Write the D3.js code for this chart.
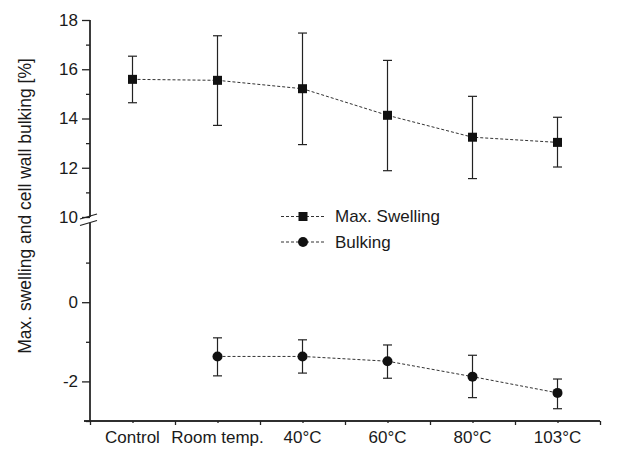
<!DOCTYPE html>
<html>
<head>
<meta charset="utf-8">
<script src="https://cdn.jsdelivr.net/npm/d3@7/dist/d3.min.js"></script>
<style>
body { margin: 0; background: #fff; }
svg text { font-family: "Liberation Sans", Arial, sans-serif; fill: #1a1a1a; }
</style>
</head>
<body>
<svg id="chart" width="638" height="452"></svg>
<script>
// categories along x
var categories = ["Control", "Room temp.", "40\u00B0C", "60\u00B0C", "80\u00B0C", "103\u00B0C"];

// max. swelling (upper panel)
var swelling = [15.59, 15.55, 15.21, 14.13, 13.24, 13.03];
var swellingHi = [16.53, 17.36, 17.47, 16.36, 14.90, 14.05];
var swellingLo = [14.64, 13.72, 12.94, 11.88, 11.56, 12.03];

// bulking (lower panel), no value for Control
var bulking = [null, -1.37, -1.37, -1.49, -1.88, -2.29];
var bulkingHi = [null, -0.90, -0.95, -1.08, -1.34, -1.94];
var bulkingLo = [null, -1.86, -1.79, -1.92, -2.41, -2.69];

var upperTicks = [10, 12, 14, 16, 18];
var upperMinor = [11, 13, 15, 17];
var lowerTicks = [-2, 0];
var lowerMinor = [-3, -1, 1];

var svg = d3.select("#chart");

var x = d3.scaleLinear().domain([0, categories.length]).range([90, 600]);
var yTop = d3.scaleLinear().domain([10, 18]).range([217, 20]);
var yBot = d3.scaleLinear().domain([-3, 2]).range([421, 223]);

function cx(i){ return x(i + 0.5); }

// y axes
function yAxis(scale, major, minor){
    var g = svg.append("g").attr("transform", "translate(90,0)");
    g.call(d3.axisLeft(scale).tickValues(major).tickSize(8).tickPadding(4).tickFormat(function(d){ return String(d); }));
    g.append("g").call(d3.axisLeft(scale).tickValues(minor).tickSize(4).tickFormat(""));
    g.selectAll("path").attr("stroke", "#222").attr("stroke-width", 1.3);
    g.selectAll("line").attr("stroke", "#222").attr("stroke-width", 1.3);
    g.selectAll("text").attr("font-size", 17).attr("fill", "#1a1a1a");
    g.selectAll(".domain").attr("d", "M0," + scale.range()[0] + "V" + scale.range()[1]);
    return g;
}
yAxis(yTop, upperTicks, upperMinor);
yAxis(yBot, lowerTicks, lowerMinor);

// axis break marks
svg.append("line").attr("x1", 80).attr("y1", 219).attr("x2", 97).attr("y2", 214).attr("stroke", "#222").attr("stroke-width", 1.3);
svg.append("line").attr("x1", 80).attr("y1", 225.5).attr("x2", 97).attr("y2", 220.5).attr("stroke", "#222").attr("stroke-width", 1.3);

// x axis
var xg = svg.append("g").attr("transform", "translate(0,421)");
xg.call(d3.axisBottom(x).tickValues(d3.range(0, categories.length + 1)).tickSize(4).tickFormat(""));
xg.append("g").call(d3.axisBottom(x).tickValues(d3.range(0.5, categories.length, 1)).tickSize(2).tickFormat(""));
xg.selectAll(".domain").attr("d", "M84,0H" + x.range()[1]);
xg.selectAll("path").attr("stroke", "#222").attr("stroke-width", 1.3);
xg.selectAll("line").attr("stroke", "#222").attr("stroke-width", 1.3);

svg.selectAll(".xlab").data(categories).enter().append("text")
    .attr("class", "xlab")
    .attr("x", function(d, i){ return cx(i); })
    .attr("y", 443)
    .attr("text-anchor", "middle")
    .attr("font-size", 17)
    .text(function(d){ return d; });

// y axis title
svg.append("text")
    .attr("transform", "translate(25,206) rotate(-90)")
    .attr("text-anchor", "middle")
    .attr("dy", "0.35em")
    .attr("font-size", 17.5)
    .text("Max. swelling and cell wall bulking [%]");

function drawSeries(vals, hi, lo, scale, shape){
    var idx = d3.range(vals.length).filter(function(i){ return vals[i] != null; });
    var line = d3.line().x(function(i){ return cx(i); }).y(function(i){ return scale(vals[i]); });
    svg.append("path").datum(idx).attr("d", line)
        .attr("fill", "none").attr("stroke", "#333").attr("stroke-width", 1).attr("stroke-dasharray", "3,2");
    var eb = svg.append("g").attr("stroke", "#222").attr("stroke-width", 1.2);
    idx.forEach(function(i){
        eb.append("line").attr("x1", cx(i)).attr("x2", cx(i)).attr("y1", scale(hi[i])).attr("y2", scale(lo[i]));
        eb.append("line").attr("x1", cx(i) - 4.5).attr("x2", cx(i) + 4.5).attr("y1", scale(hi[i])).attr("y2", scale(hi[i]));
        eb.append("line").attr("x1", cx(i) - 4.5).attr("x2", cx(i) + 4.5).attr("y1", scale(lo[i])).attr("y2", scale(lo[i]));
    });
    idx.forEach(function(i){ marker(cx(i), scale(vals[i]), shape); });
}

function marker(px, py, shape){
    if(shape == "square"){
        svg.append("rect").attr("x", px - 4.5).attr("y", py - 4.5).attr("width", 9).attr("height", 9).attr("fill", "#111");
    } else {
        svg.append("circle").attr("cx", px).attr("cy", py).attr("r", 5).attr("fill", "#111");
    }
}

drawSeries(swelling, swellingHi, swellingLo, yTop, "square");
drawSeries(bulking, bulkingHi, bulkingLo, yBot, "circle");

// legend
var legend = [["Max. Swelling", "square", 216.5], ["Bulking", "circle", 242]];
legend.forEach(function(l){
    svg.append("line").attr("x1", 281).attr("x2", 326).attr("y1", l[2]).attr("y2", l[2])
        .attr("stroke", "#333").attr("stroke-width", 1).attr("stroke-dasharray", "3,2");
    marker(303, l[2], l[1]);
    svg.append("text").attr("x", 335).attr("y", l[2]).attr("dy", "0.35em").attr("font-size", 17).text(l[0]);
});
</script>
</body>
</html>
